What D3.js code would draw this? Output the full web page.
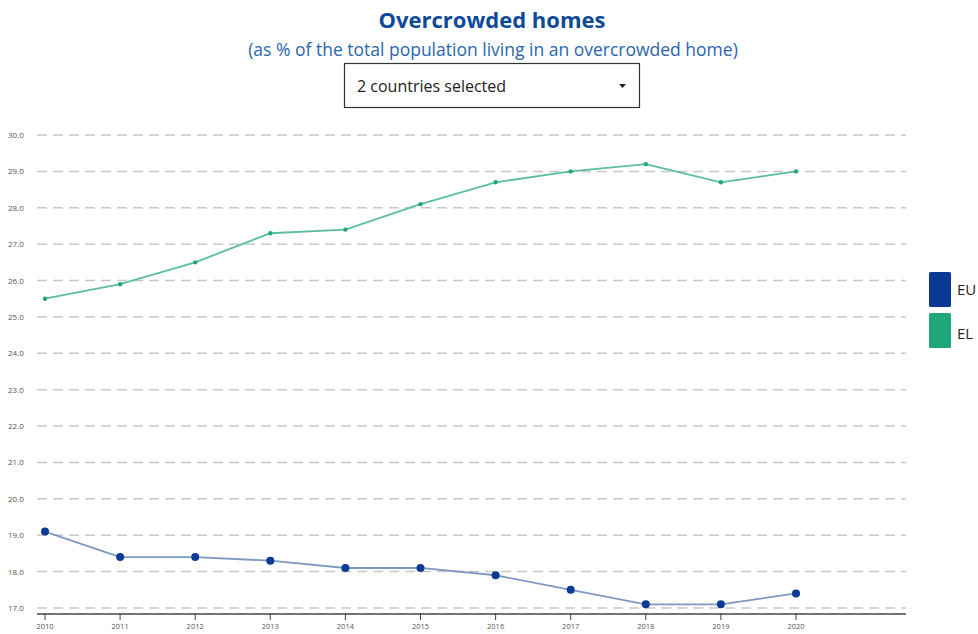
<!DOCTYPE html>
<html><head><meta charset="utf-8">
<script src="https://cdn.jsdelivr.net/npm/d3@7/dist/d3.min.js"></script>
<style>
body{margin:0;background:#fff;font-family:"Open Sans",sans-serif;}
</style></head>
<body>
<svg id="chart" width="978" height="634"></svg>
<script>
const years = [2010,2011,2012,2013,2014,2015,2016,2017,2018,2019,2020];
const euValues = [19.1,18.4,18.4,18.3,18.1,18.1,17.9,17.5,17.1,17.1,17.4];
const elValues = [25.5,25.9,26.5,27.3,27.4,28.1,28.7,29.0,29.2,28.7,29.0];
const yTicks = [17,18,19,20,21,22,23,24,25,26,27,28,29,30];
const seriesNames = ["EU","EL"];
const seriesColors = ["#0b3a94","#1fa67a"];
const lineColors = ["#7f98c2","#5cbf98"];

const svg = d3.select("#chart");
const x = d3.scaleLinear().domain([2010,2020]).range([45,796]);
const y = d3.scaleLinear().domain([17,30]).range([608,135]);
const left = 37, right = 906, axisY = 614;

// title
svg.append("text").attr("x",492).attr("y",28).attr("text-anchor","middle")
  .attr("font-size",22).attr("font-weight","bold").attr("fill","#0e4a9a").text("Overcrowded homes");
svg.append("text").attr("x",493).attr("y",56).attr("text-anchor","middle")
  .attr("font-size",17.5).attr("fill","#2a66ad").text("(as % of the total population living in an overcrowded home)");
// dropdown
svg.append("rect").attr("x",344.5).attr("y",63.5).attr("width",295).attr("height",44)
  .attr("fill","#fff").attr("stroke","#333").attr("stroke-width",1.2);
svg.append("text").attr("x",357).attr("y",92).attr("font-size",16).attr("fill","#222").text("2 countries selected");
svg.append("path").attr("d","M619,84 L626,84 L622.5,88 Z").attr("fill","#222");

// grid
const g = svg.append("g");
g.selectAll("line.grid").data(yTicks).enter().append("line")
  .attr("x1",left).attr("x2",right).attr("y1",d=>y(d)).attr("y2",d=>y(d))
  .attr("stroke","#c8c8c8").attr("stroke-width",1.5).attr("stroke-dasharray","10,6");
g.selectAll("text.yt").data(yTicks).enter().append("text")
  .attr("x",8).attr("y",d=>y(d)+3).attr("font-size",8).attr("fill","#555")
  .text(d=>d3.format(".1f")(d));

// x axis
const xAxis = svg.append("g").attr("transform",`translate(0,${axisY})`);
xAxis.append("line").attr("x1",left).attr("x2",right).attr("stroke","#444").attr("stroke-width",1.5);
xAxis.selectAll("line.tk").data(years).enter().append("line")
  .attr("x1",d=>x(d)).attr("x2",d=>x(d)).attr("y1",-1).attr("y2",6).attr("stroke","#444");
xAxis.selectAll("text").data(years).enter().append("text")
  .attr("x",d=>x(d)).attr("y",15).attr("text-anchor","middle").attr("font-size",7.5).attr("fill","#555").text(d=>d);

// lines
const data = [euValues, elValues];
const line = d3.line().x((d,i)=>x(years[i])).y(d=>y(d));
data.forEach((vals,k)=>{
  svg.append("path").datum(vals).attr("d",line).attr("fill","none")
    .attr("stroke",lineColors[k]).attr("stroke-width",1.8);
  svg.selectAll("circle.s"+k).data(vals).enter().append("circle")
    .attr("cx",(d,i)=>x(years[i])).attr("cy",d=>y(d)).attr("r",k===0?4:2.2)
    .attr("fill",seriesColors[k]);
});

// legend
seriesNames.forEach((n,k)=>{
  svg.append("rect").attr("x",929).attr("y",272+k*41).attr("width",22).attr("height",35).attr("rx",1.5)
    .attr("fill",seriesColors[k]);
  svg.append("text").attr("x",957).attr("y",295+k*44).attr("font-size",15).attr("fill","#222").text(n);
});
</script>
</body></html>
